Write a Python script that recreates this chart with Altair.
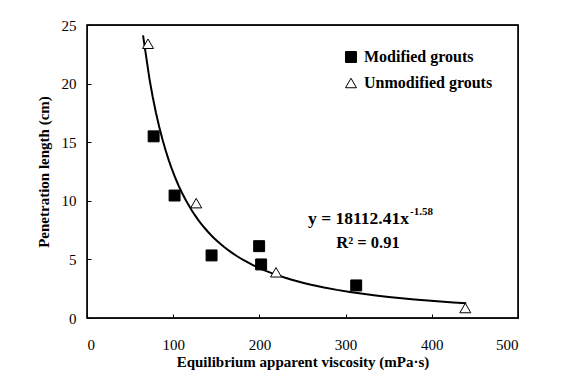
import altair as alt
import pandas as pd

# Data
mod_x = [77.3, 101.6, 144.5, 199.7, 202.0, 312.3]
mod_y = [15.5, 10.45, 5.34, 6.13, 4.57, 2.78]
unmod_x = [70.8, 126.7, 219.3, 438.9]
unmod_y = [23.4, 9.8, 3.9, 0.85]
groups = ["Modified grouts", "Unmodified grouts"]
x_ticks = [0, 100, 200, 300, 400, 500]
y_ticks = [0, 5, 10, 15, 20, 25]
x_range = [0, 500]
y_range = [0, 25]
fit_extent = [65, 440]

df = pd.DataFrame({
    "x": mod_x + unmod_x,
    "y": mod_y + unmod_y,
    "g": [groups[0]] * len(mod_x) + [groups[1]] * len(unmod_x),
})
box = pd.DataFrame({"x0": [x_range[0]], "x1": [x_range[1]], "y0": [y_range[0]], "y1": [y_range[1]]})

FONT = "Liberation Serif"
W, H = 431, 293

xs = alt.Scale(domain=x_range, nice=False, zero=False)
ys = alt.Scale(domain=y_range, nice=False, zero=False)

xaxis = alt.Axis(values=x_ticks, title="Equilibrium apparent viscosity (mPa\u00b7s)",
                 grid=False, domain=False, offset=-4, tickSize=4, tickColor="black",
                 labelPadding=19, labelFont=FONT, labelFontSize=15, labelColor="black",
                 titleFont=FONT, titleFontSize=15, titleFontWeight="bold", titleColor="black",
                 titlePadding=2)
yaxis = alt.Axis(values=y_ticks, title="Penetration length (cm)",
                 grid=False, domain=False, offset=-4, tickSize=4, tickColor="black",
                 labelPadding=11, labelFont=FONT, labelFontSize=15, labelColor="black",
                 titleFont=FONT, titleFontSize=15, titleFontWeight="bold", titleColor="black",
                 titlePadding=10)

base = alt.Chart(df)

frame = alt.Chart(box).mark_rect(fillOpacity=0, stroke="black", strokeWidth=1.3).encode(
    x=alt.X("x0:Q", scale=xs, axis=xaxis), x2="x1:Q",
    y=alt.Y("y0:Q", scale=ys, axis=yaxis), y2="y1:Q",
)

fit = base.transform_regression("x", "y", method="pow", extent=fit_extent).mark_line(
    color="black", strokeWidth=2
).encode(x=alt.X("x:Q", scale=xs, axis=xaxis), y=alt.Y("y:Q", scale=ys, axis=yaxis))

legend = alt.Legend(title=None, orient="none", legendX=256, legendY=24,
                    labelFont=FONT, labelFontSize=16, labelFontWeight="bold", labelColor="black",
                    symbolSize=120, symbolStrokeWidth=1,
                    rowPadding=10, labelOffset=5)

pts = base.mark_point(filled=False, strokeWidth=1, opacity=1).encode(
    x=alt.X("x:Q", scale=xs, axis=xaxis),
    y=alt.Y("y:Q", scale=ys, axis=yaxis),
    shape=alt.Shape("g:N", scale=alt.Scale(domain=groups, range=["square", "triangle-up"]), legend=legend),
    fill=alt.Fill("g:N", scale=alt.Scale(domain=groups, range=["black", "white"]), legend=legend),
    stroke=alt.Stroke("g:N", scale=alt.Scale(domain=groups, range=["black", "black"]), legend=legend),
    size=alt.value(120),
)

eq_main = alt.Chart(pd.DataFrame({"t": ["y = 18112.41x"]})).mark_text(
    font=FONT, fontSize=17.5, fontWeight="bold", align="right", baseline="middle", color="black"
).encode(text="t:N", x=alt.value(322), y=alt.value(194))
eq_sup = alt.Chart(pd.DataFrame({"t": ["-1.58"]})).mark_text(
    font=FONT, fontSize=11, fontWeight="bold", align="left", baseline="middle", color="black"
).encode(text="t:N", x=alt.value(323), y=alt.value(187))
r2 = alt.Chart(pd.DataFrame({"t": ["R\u00b2 = 0.91"]})).mark_text(
    font=FONT, fontSize=16.5, fontWeight="bold", align="center", baseline="middle", color="black"
).encode(text="t:N", x=alt.value(281), y=alt.value(218))

chart = alt.layer(frame, fit, pts, eq_main, eq_sup, r2).properties(
    width=W, height=H,
    background="white",
    autosize=alt.AutoSizeParams(type="none"),
    padding={"left": 79, "top": 17, "right": 30, "bottom": 57},
).configure_view(stroke="black", strokeWidth=1.3)

chart.save("out.html", embed_options={"renderer": "svg", "actions": False})
